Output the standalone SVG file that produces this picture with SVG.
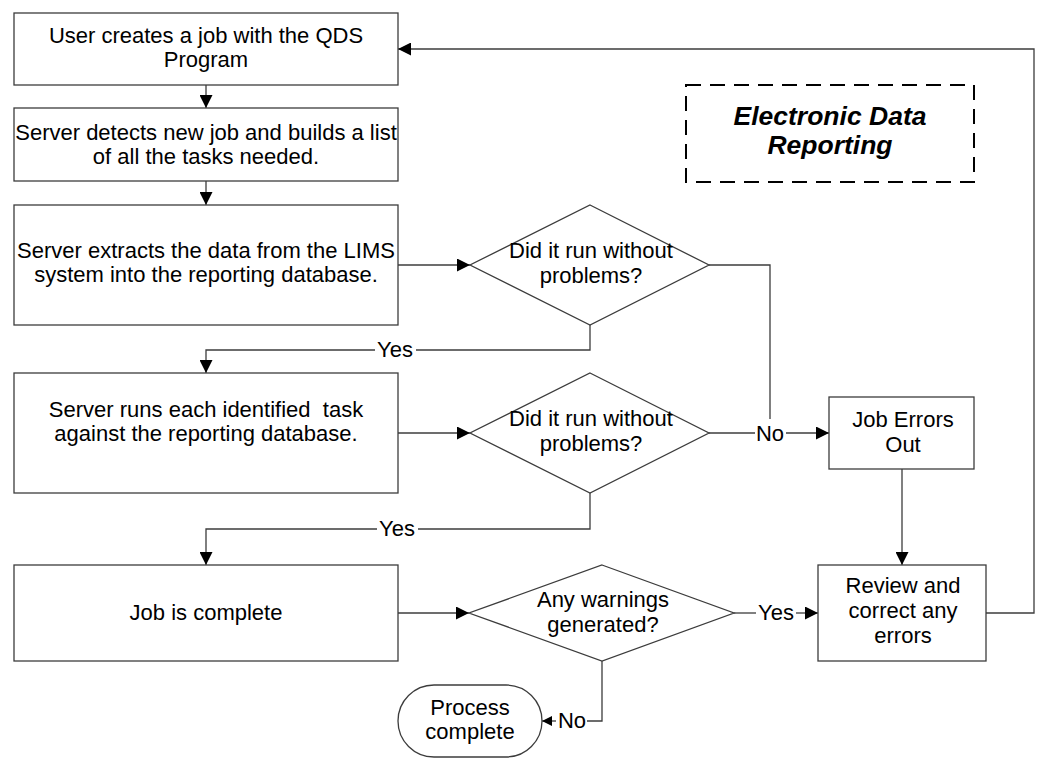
<svg xmlns="http://www.w3.org/2000/svg" width="1037" height="761" viewBox="0 0 1037 761">
  <defs>
    <style>
      .shape { fill: #ffffff; stroke: #3c3c3c; stroke-width: 1.3; }
      .line { fill: none; stroke: #3c3c3c; stroke-width: 1.3; }
      .txt { font-family: "Liberation Sans", Arial, sans-serif; font-size: 22px; fill: #000000; text-anchor: middle; white-space: pre; }
      .title { font-family: "Liberation Sans", Arial, sans-serif; font-size: 26.5px; font-weight: bold; font-style: italic; fill: #000000; text-anchor: middle; }
      .dash { fill: none; stroke: #000000; stroke-width: 2; stroke-dasharray: 15 9; }
    </style>
    <marker id="arrow" viewBox="0 0 13 13" refX="13" refY="6.5" markerWidth="13" markerHeight="13" markerUnits="userSpaceOnUse" orient="auto">
      <path d="M0,0 L13,6.5 L0,13 z" fill="#000000"/>
    </marker>
    <marker id="arrowSmall" viewBox="0 0 10 10" refX="10" refY="5" markerWidth="10" markerHeight="10" markerUnits="userSpaceOnUse" orient="auto">
      <path d="M0,0 L10,5 L0,10 z" fill="#000000"/>
    </marker>
  </defs>

  <!-- connectors -->
  <g id="connectors">
    <path class="line" d="M206,85 L206,108" marker-end="url(#arrow)"/>
    <path class="line" d="M206,181 L206,205" marker-end="url(#arrow)"/>
    <path class="line" d="M398,265 L470,265" marker-end="url(#arrow)"/>
    <path class="line" d="M398,433 L470,433" marker-end="url(#arrow)"/>
    <path class="line" d="M398,613 L469,613" marker-end="url(#arrow)"/>
    <!-- first check: yes branch -->
    <path class="line" d="M590,325 L590,350 L416,350"/>
    <path class="line" d="M375,350 L206,350 L206,373" marker-end="url(#arrow)"/>
    <text class="txt" x="395" y="357">Yes</text>
    <!-- first check: no branch joins the second -->
    <path class="line" d="M709,265 L770,265 L770,419"/>
    <!-- second check: no branch -->
    <path class="line" d="M709,433 L755,433"/>
    <path class="line" d="M786,433 L829,433" marker-end="url(#arrow)"/>
    <text class="txt" x="770" y="441">No</text>
    <!-- second check: yes branch -->
    <path class="line" d="M590,493 L590,529 L418,529"/>
    <path class="line" d="M377,529 L206,529 L206,565" marker-end="url(#arrow)"/>
    <text class="txt" x="397" y="536">Yes</text>
    <!-- errors to review -->
    <path class="line" d="M902,469 L902,565" marker-end="url(#arrow)"/>
    <!-- warnings: yes branch -->
    <path class="line" d="M734,613 L756,613"/>
    <path class="line" d="M796,613 L818,613" marker-end="url(#arrow)"/>
    <text class="txt" x="776" y="620">Yes</text>
    <!-- warnings: no branch -->
    <path class="line" d="M602,661 L602,721 L587,721"/>
    <path class="line" d="M556,721 L542,721" marker-end="url(#arrowSmall)"/>
    <text class="txt" x="572" y="728">No</text>
    <!-- loop back to the start -->
    <path class="line" d="M986,613 L1034,613 L1034,49 L398,49" marker-end="url(#arrow)"/>
  </g>

  <g id="create-job">
    <rect class="shape" x="14" y="13" width="384" height="72"/>
    <text class="txt" x="206" y="43">User creates a job with the QDS</text>
    <text class="txt" x="206" y="67">Program</text>
  </g>

  <g id="detect-job">
    <rect class="shape" x="14" y="108" width="384" height="73"/>
    <text class="txt" x="206" y="140">Server detects new job and builds a list</text>
    <text class="txt" x="206" y="164">of all the tasks needed.</text>
  </g>

  <g id="extract-data">
    <rect class="shape" x="14" y="205" width="384" height="120"/>
    <text class="txt" x="206" y="258">Server extracts the data from the LIMS</text>
    <text class="txt" x="206" y="282">system into the reporting database.</text>
  </g>

  <g id="check-extract">
    <polygon class="shape" points="590,205 709,265 590,325 470,265"/>
    <text class="txt" x="591" y="258">Did it run without</text>
    <text class="txt" x="591" y="283">problems?</text>
  </g>

  <g id="run-tasks">
    <rect class="shape" x="14" y="373" width="384" height="120"/>
    <text class="txt" x="206" y="417" xml:space="preserve">Server runs each identified  task</text>
    <text class="txt" x="206" y="441">against the reporting database.</text>
  </g>

  <g id="check-tasks">
    <polygon class="shape" points="590,373 709,433 590,493 470,433"/>
    <text class="txt" x="591" y="426">Did it run without</text>
    <text class="txt" x="591" y="451">problems?</text>
  </g>

  <g id="job-errors">
    <rect class="shape" x="829" y="397" width="145" height="72"/>
    <text class="txt" x="903" y="427">Job Errors</text>
    <text class="txt" x="903" y="452">Out</text>
  </g>

  <g id="job-complete">
    <rect class="shape" x="14" y="565" width="384" height="96"/>
    <text class="txt" x="206" y="620">Job is complete</text>
  </g>

  <g id="check-warnings">
    <polygon class="shape" points="602,565 734,613 602,661 469,613"/>
    <text class="txt" x="603" y="607">Any warnings</text>
    <text class="txt" x="603" y="632">generated?</text>
  </g>

  <g id="review-errors">
    <rect class="shape" x="818" y="565" width="168" height="96"/>
    <text class="txt" x="903" y="593">Review and</text>
    <text class="txt" x="903" y="618">correct any</text>
    <text class="txt" x="903" y="643">errors</text>
  </g>

  <g id="process-complete">
    <rect class="shape" x="398" y="685" width="144" height="72" rx="36" ry="36"/>
    <text class="txt" x="470" y="715">Process</text>
    <text class="txt" x="470" y="739">complete</text>
  </g>

  <g id="title">
    <rect class="dash" x="686" y="85" width="288" height="97"/>
    <text class="title" x="830" y="125">Electronic Data</text>
    <text class="title" x="830" y="154">Reporting</text>
  </g>
</svg>
